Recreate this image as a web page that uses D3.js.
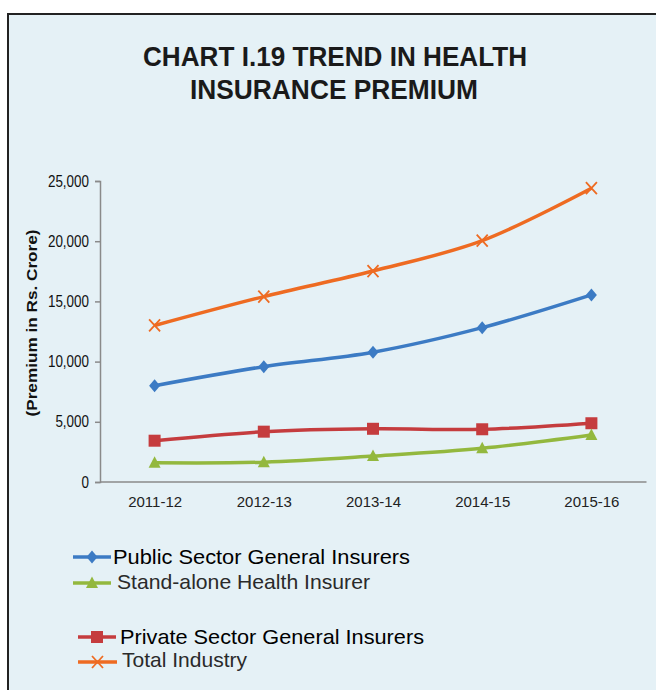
<!DOCTYPE html>
<html>
<head>
<meta charset="utf-8">
<script src="https://cdn.jsdelivr.net/npm/d3@7"></script>
<style>
  html, body { margin: 0; padding: 0; background: #ffffff; }
  svg { display: block; }
</style>
</head>
<body>
<svg id="chart" width="656" height="690"></svg>
<script>
// ---- data ----
const categories = ["2011-12", "2012-13", "2013-14", "2014-15", "2015-16"];
const publicSector = [8000, 9580, 10780, 12820, 15540];
const standAlone = [1600, 1650, 2150, 2800, 3900];
const privateSector = [3430, 4180, 4420, 4380, 4880];
const totalIndustry = [13000, 15400, 17520, 20050, 24400];
const yTicks = [0, 5000, 10000, 15000, 20000, 25000];
const titleLines = ["CHART I.19 TREND IN HEALTH", "INSURANCE PREMIUM"];
const yTitle = "(Premium in Rs. Crore)";
const seriesNames = ["Public Sector General Insurers", "Stand-alone Health Insurer", "Private Sector General Insurers", "Total Industry"];

const svg = d3.select("#chart");
const bg = "#e5f1f6";
const sans = "'Liberation Sans', Arial, sans-serif";

// frame
svg.append("rect").attr("x", 8).attr("y", 14).attr("width", 700).attr("height", 700)
  .attr("fill", bg).attr("stroke", "#222").attr("stroke-width", 2);

// title
const titleG = svg.append("g").attr("font-family", sans).attr("font-weight", "bold")
  .attr("fill", "#1a1a1a").attr("text-anchor", "middle");
titleG.append("text").attr("x", 335).attr("y", 66).attr("font-size", 27.5)
  .attr("textLength", 384).attr("lengthAdjust", "spacingAndGlyphs").text(titleLines[0]);
titleG.append("text").attr("x", 334).attr("y", 99).attr("font-size", 27.5)
  .attr("textLength", 288).attr("lengthAdjust", "spacingAndGlyphs").text(titleLines[1]);

// scales
const x = d3.scalePoint().domain(categories).range([100, 646]).padding(0.5);
const y = d3.scaleLinear().domain([0, 25000]).range([482, 181]);

// y axis
const yAxis = svg.append("g").attr("transform", "translate(100,0)")
  .call(d3.axisLeft(y).tickValues(yTicks).tickFormat(d3.format(",")).tickSize(5).tickPadding(6));
yAxis.select(".domain").attr("stroke", "#8a8a8a").attr("stroke-width", 1.5);
yAxis.selectAll(".tick line").attr("stroke", "#8a8a8a").attr("stroke-width", 1.5);
yAxis.selectAll(".tick text").attr("font-family", sans).attr("font-size", 16).attr("fill", "#111")
  .attr("x", -11 / 0.84).attr("transform", "scale(0.84,1)");

// x axis
const xAxis = svg.append("g").attr("transform", "translate(0,482)")
  .call(d3.axisBottom(x).tickSize(0).tickPadding(14).tickSizeOuter(0));
xAxis.select(".domain").attr("stroke", "#8a8a8a").attr("stroke-width", 1.5)
  .attr("d", "M100,0H646.5");
xAxis.selectAll(".tick text").attr("font-family", sans).attr("font-size", 15).attr("fill", "#222");

// y title
svg.append("text").attr("transform", "translate(37,323) rotate(-90)")
  .attr("text-anchor", "middle").attr("font-family", sans).attr("font-weight", "bold")
  .attr("font-size", 15.5).attr("fill", "#111")
  .attr("textLength", 187).attr("lengthAdjust", "spacingAndGlyphs").text(yTitle);

// markers
function diamond(g, cx, cy, color) {
  g.append("path").attr("d", `M${cx},${cy-6.5}L${cx+5.5},${cy}L${cx},${cy+6.5}L${cx-5.5},${cy}Z`).attr("fill", color);
}
function square(g, cx, cy, color) {
  g.append("rect").attr("x", cx-6).attr("y", cy-6).attr("width", 12).attr("height", 12).attr("fill", color);
}
function triangle(g, cx, cy, color) {
  g.append("path").attr("d", `M${cx},${cy-6.5}L${cx+6},${cy+5}L${cx-6},${cy+5}Z`).attr("fill", color);
}
function cross(g, cx, cy, color) {
  g.append("path").attr("d", `M${cx-5.5},${cy-6}L${cx+5.5},${cy+6}M${cx+5.5},${cy-6}L${cx-5.5},${cy+6}`)
    .attr("stroke", color).attr("stroke-width", 1.8).attr("fill", "none");
}

const series = [
  { name: seriesNames[3], values: totalIndustry, color: "#ee6b22", marker: cross },
  { name: seriesNames[0], values: publicSector, color: "#3c7bc4", marker: diamond },
  { name: seriesNames[2], values: privateSector, color: "#c53c3e", marker: square },
  { name: seriesNames[1], values: standAlone, color: "#93b83e", marker: triangle }
];

const line = d3.line().x((d, i) => x(categories[i])).y(d => y(d)).curve(d3.curveCatmullRom.alpha(0.5));
const plot = svg.append("g");
series.forEach(s => {
  plot.append("path").datum(s.values).attr("d", line).attr("fill", "none")
    .attr("stroke", s.color).attr("stroke-width", 3.5).attr("stroke-linejoin", "round");
  s.values.forEach((v, i) => s.marker(plot, x(categories[i]), y(v), s.color));
});

// legend
const legendItems = [
  { s: series[1], x0: 73, x1: 111, ly: 557, tx: 113, ty: 564, w: 297, fill: "#000" },
  { s: series[3], x0: 73, x1: 111, ly: 583, tx: 117, ty: 589, w: 253, fill: "#2a2a2a" },
  { s: series[2], x0: 78, x1: 116, ly: 637, tx: 120, ty: 644, w: 304, fill: "#000" },
  { s: series[0], x0: 78, x1: 117, ly: 662, tx: 122, ty: 667, w: 125, fill: "#2a2a2a" }
];
const lg = svg.append("g");
legendItems.forEach(it => {
  lg.append("line").attr("x1", it.x0).attr("x2", it.x1).attr("y1", it.ly).attr("y2", it.ly)
    .attr("stroke", it.s.color).attr("stroke-width", 3.5);
  it.s.marker(lg, (it.x0 + it.x1) / 2, it.ly, it.s.color);
  lg.append("text").attr("x", it.tx).attr("y", it.ty).attr("font-family", sans)
    .attr("font-size", 21).attr("fill", it.fill)
    .attr("textLength", it.w).attr("lengthAdjust", "spacingAndGlyphs").text(it.s.name);
});
</script>
</body>
</html>
